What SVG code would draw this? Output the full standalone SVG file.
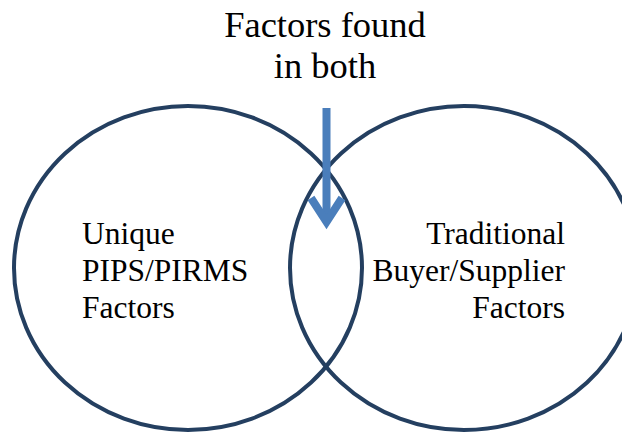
<svg xmlns="http://www.w3.org/2000/svg" width="622" height="432" viewBox="0 0 622 432">
  <style>
    .set { fill: none; stroke: #243F60; stroke-width: 4; }
    .label { font-family: "Liberation Serif", "Times New Roman", serif; fill: #000; }
    .big { font-size: 36.5px; }
    .mid { font-size: 31.5px; }
    .pointer { fill: none; stroke: #4A7EBB; stroke-width: 8; }
  </style>
  <rect width="622" height="432" fill="#fff"/>
  <g id="caption">
    <text class="label big" x="325" y="37" text-anchor="middle">Factors found</text>
    <text class="label big" x="325" y="78" text-anchor="middle">in both</text>
  </g>
  <g id="left-set">
    <ellipse class="set" cx="188" cy="268" rx="174" ry="162"/>
    <text class="label mid" x="82" y="244">Unique</text>
    <text class="label mid" x="82" y="281">PIPS/PIRMS</text>
    <text class="label mid" x="82" y="318">Factors</text>
  </g>
  <g id="right-set">
    <ellipse class="set" cx="464" cy="268" rx="174" ry="162"/>
    <text class="label mid" x="565" y="244" text-anchor="end">Traditional</text>
    <text class="label mid" x="565" y="281" text-anchor="end">Buyer/Supplier</text>
    <text class="label mid" x="565" y="318" text-anchor="end">Factors</text>
  </g>
  <g id="connectors">
    <line class="pointer" x1="326.5" y1="108" x2="326.5" y2="222"/>
    <polyline class="pointer" points="311,198 326.5,222 342,198" stroke-linejoin="miter" stroke-miterlimit="10"/>
  </g>
</svg>
